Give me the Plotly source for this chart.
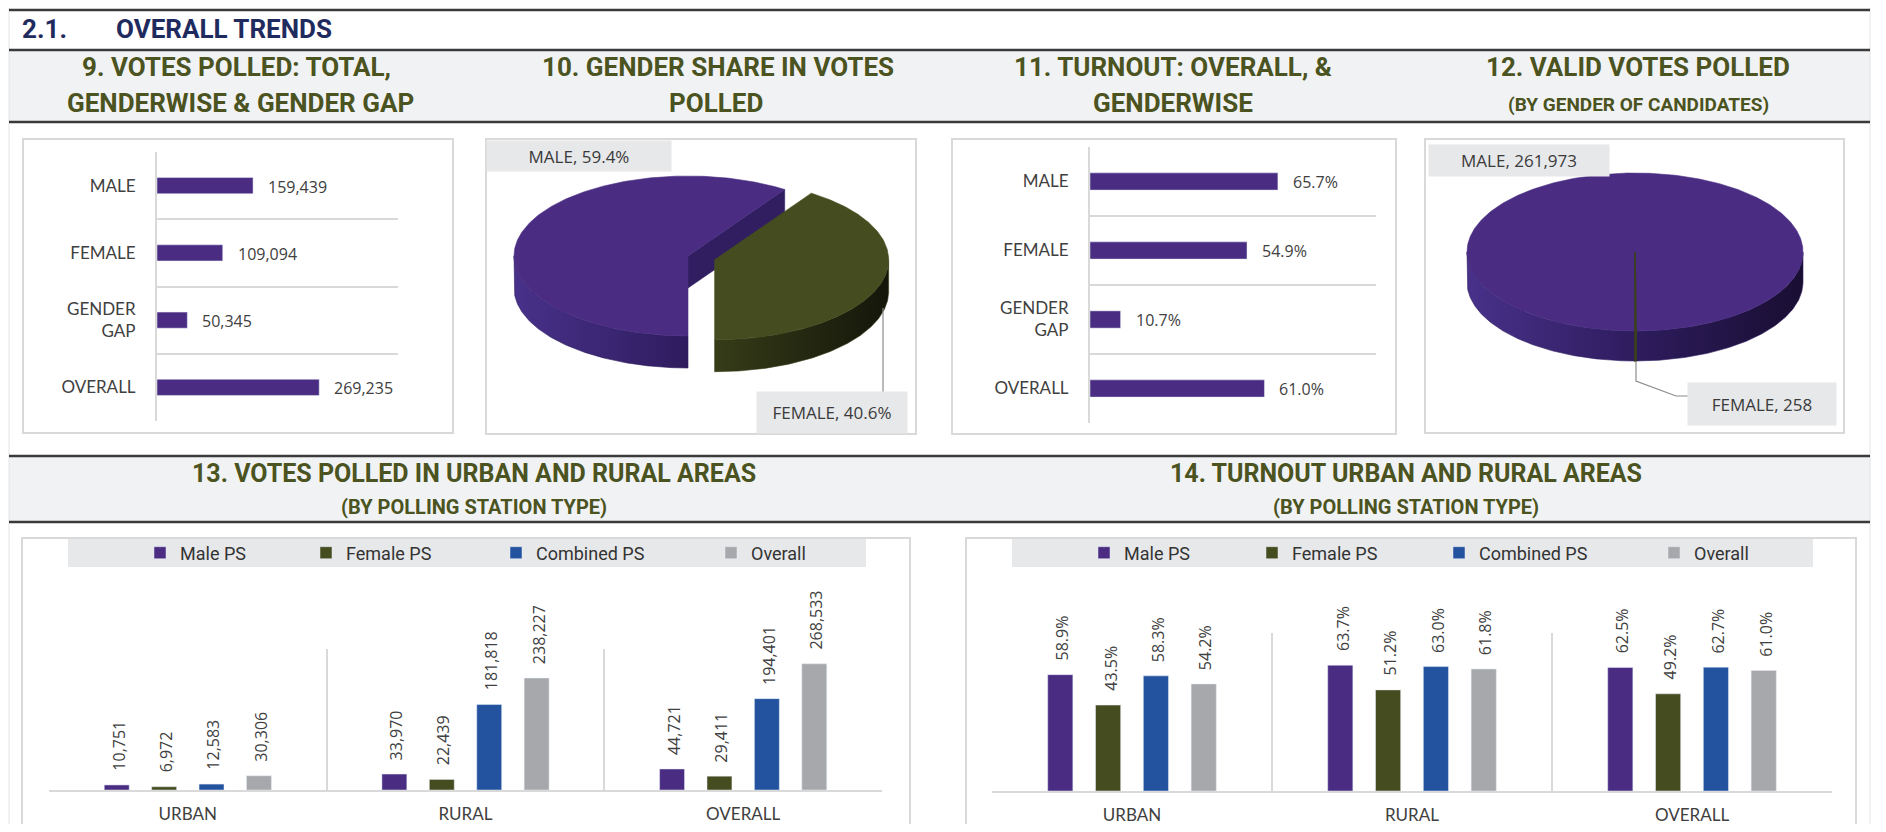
import numpy as np
import plotly.graph_objects as go

W, H = 1886, 832          # page (screenshot) size
OFF = 8                   # default body margin of the html page
FW, FH = W - 2 * OFF, H - 2 * OFF   # figure size so that the page fits exactly

# ------------------------------------------------------------------ data
gender_categories = ["MALE", "FEMALE", "GENDER GAP", "OVERALL"]
votes_polled = [159439, 109094, 50345, 269235]
turnout_rate = [0.657, 0.549, 0.107, 0.610]

share_labels = ["MALE", "FEMALE"]
share_votes = [159439, 109094]

valid_labels = ["MALE", "FEMALE"]
valid_votes = [261973, 258]

area_categories = ["URBAN", "RURAL", "OVERALL"]
ps_types = ["Male PS", "Female PS", "Combined PS", "Overall"]

votes_male_ps = [10751, 33970, 44721]
votes_female_ps = [6972, 22439, 29411]
votes_combined_ps = [12583, 181818, 194401]
votes_overall_ps = [30306, 238227, 268533]

turnout_male_ps = [0.589, 0.637, 0.625]
turnout_female_ps = [0.435, 0.512, 0.492]
turnout_combined_ps = [0.583, 0.630, 0.627]
turnout_overall_ps = [0.542, 0.618, 0.610]

# ------------------------------------------------------------------ style
PURPLE, OLIVE, BLUE, GREY = "#4A2D83", "#454D20", "#23529F", "#A7A8AC"
PS_COLORS = [PURPLE, OLIVE, BLUE, GREY]
TXT = "#404040"
TITLE_CLR = "#4B5320"
NAVY = "#1F2B5E"
LINE = "#D9D9D9"
F_TITLE = "Roboto, Arial, sans-serif"
F_LBL = "Lato, 'Open Sans', sans-serif"
F_NUM = "'Open Sans', Lato, sans-serif"
F_LEG = "Roboto, Arial, sans-serif"
BARGAP, BARGROUPGAP = 0.317, 0.474


def X(x):
    return (x - OFF) / FW


def Y(y):
    return 1 - (y - OFF) / FH


def dx(x0, x1):
    return [X(x0), X(x1)]


def dy(y0, y1):
    return [Y(y1), Y(y0)]


fig = go.Figure()
shapes = []
annotations = []


def hline(y, x0=9, x1=1870, color="#3A3A3A", w=2.5):
    shapes.append(dict(type="line", xref="paper", yref="paper", x0=X(x0), x1=X(x1),
                       y0=Y(y), y1=Y(y), line=dict(color=color, width=w)))


def vline(x, y0, y1, color, w=1):
    shapes.append(dict(type="line", xref="paper", yref="paper", x0=X(x), x1=X(x),
                       y0=Y(y0), y1=Y(y1), line=dict(color=color, width=w)))


def box(x0, y0, x1, y1, fill="rgba(0,0,0,0)", line=None, lw=0, layer="below"):
    shapes.append(dict(type="rect", xref="paper", yref="paper", x0=X(x0), x1=X(x1),
                       y0=Y(y1), y1=Y(y0), fillcolor=fill, layer=layer,
                       line=dict(color=line or "rgba(0,0,0,0)", width=lw)))


def text(x, y, s, size, color, family=F_TITLE, weight="normal", xanchor="center", **kw):
    annotations.append(dict(xref="paper", yref="paper", x=X(x), y=Y(y), text=s,
                            showarrow=False, xanchor=xanchor, yanchor="middle",
                            font=dict(size=size, color=color, family=family, weight=weight), **kw))


def label_box(x, y, w, h, s):
    annotations.append(dict(xref="paper", yref="paper", x=X(x), y=Y(y), text=s,
                            showarrow=False, xanchor="center", yanchor="middle",
                            width=w, height=h, bgcolor="#E7E8EA", borderpad=0,
                            font=dict(family=F_NUM, size=17, color="#3A3A3A")))


# ------------------------------------------------------------------ page decoration
vline(9, 0, 832, "#E4E4E4")
vline(1870, 0, 832, "#E4E4E4")
hline(10)
text(20, 29, "2.1.", 26, NAVY, weight="bold", xanchor="left")
text(114, 29, "OVERALL TRENDS", 26, NAVY, weight="bold", xanchor="left")

box(9, 50, 1870, 122, fill="#F1F2F4")
hline(50)
hline(122)
box(9, 456, 1870, 522, fill="#F1F2F4")
hline(456)
hline(522)

# section titles
text(236, 67, "9. VOTES POLLED: TOTAL,", 26, TITLE_CLR, weight="bold")
text(240, 103, "GENDERWISE & GENDER GAP", 26, TITLE_CLR, weight="bold")
text(718, 67, "10. GENDER SHARE IN VOTES", 26, TITLE_CLR, weight="bold")
text(716, 103, "POLLED", 26, TITLE_CLR, weight="bold")
text(1173, 67, "11. TURNOUT: OVERALL, &", 26, TITLE_CLR, weight="bold")
text(1173, 103, "GENDERWISE", 26, TITLE_CLR, weight="bold")
text(1638, 67, "12. VALID VOTES POLLED", 26, TITLE_CLR, weight="bold")
text(1638, 104, "(BY GENDER OF CANDIDATES)", 19, TITLE_CLR, weight="bold")
text(474, 473, "13. VOTES POLLED IN URBAN AND RURAL AREAS", 25, TITLE_CLR, weight="bold")
text(474, 507, "(BY POLLING STATION TYPE)", 20, TITLE_CLR, weight="bold")
text(1406, 473, "14. TURNOUT URBAN AND RURAL AREAS", 25, TITLE_CLR, weight="bold")
text(1406, 507, "(BY POLLING STATION TYPE)", 20, TITLE_CLR, weight="bold")

# panels
box(23, 139, 453, 433, line=LINE, lw=2)
box(486, 139, 916, 434, line=LINE, lw=2)
box(952, 139, 1396, 434, line=LINE, lw=2)
box(1425, 139, 1844, 433, line=LINE, lw=2)
box(22, 538, 910, 845, line=LINE, lw=2)
box(966, 538, 1856, 845, line=LINE, lw=2)
box(68, 539, 866, 567, fill="#E7E8EA")
box(1012, 539, 1813, 567, fill="#E7E8EA")

# ------------------------------------------------------------------ chart 9 & 11 (horizontal bars)
cat_axis_common = dict(type="category", categoryorder="array", categoryarray=gender_categories,
                       autorange="reversed", tickson="boundaries", showgrid=True,
                       gridcolor=LINE, gridwidth=2, showline=True, linecolor=LINE, linewidth=2,
                       ticks="", ticklabelstandoff=16, labelalias={"GENDER GAP": "GENDER<br>GAP"},
                       tickfont=dict(family=F_LBL, size=17, color=TXT), fixedrange=True)

fig.add_trace(go.Bar(x=votes_polled, y=gender_categories, orientation="h", width=0.24,
                     marker=dict(color=PURPLE), xaxis="x", yaxis="y", showlegend=False,
                     hoverinfo="skip"))
for c, v in zip(gender_categories, votes_polled):
    annotations.append(dict(xref="x", yref="y", x=v, y=c, text=f"{v:,}", showarrow=False,
                            xanchor="left", yanchor="middle", xshift=13, yshift=-1,
                            font=dict(family=F_NUM, size=16, color=TXT)))

fig.add_trace(go.Bar(x=turnout_rate, y=gender_categories, orientation="h", width=0.25,
                     marker=dict(color=PURPLE), xaxis="x3", yaxis="y3", showlegend=False,
                     hoverinfo="skip"))
for c, v in zip(gender_categories, turnout_rate):
    annotations.append(dict(xref="x3", yref="y3", x=v, y=c, text=f"{v:.1%}", showarrow=False,
                            xanchor="left", yanchor="middle", xshift=13,
                            font=dict(family=F_NUM, size=16, color=TXT)))


# ------------------------------------------------------------------ 3D-looking pies (10, 12)
def ell(cx, cy, rx, ry, a0, a1, n=None):
    n = n or max(3, int(abs(a1 - a0) * 1.5) + 2)
    th = np.radians(np.linspace(a0, a1, n))
    return cx + rx * np.sin(th), cy - ry * np.cos(th)


def pie3d(values, tops, sides, cut, geo, explode, xa, ya, edge=None):
    cx, cy, rx, ry, t, start = geo
    total = float(sum(values))
    a = start
    for i, v in enumerate(values):
        span = 360.0 * v / total
        a0, a1 = a, a + span
        a = a1
        mid = np.radians((a0 + a1) / 2)
        scx = cx + explode[i] * rx * np.sin(mid)
        scy = cy - explode[i] * ry * np.cos(mid)
        lw = 1.6 if edge and edge[i] else 0.6
        # visible outer side
        for k in (-360, 0, 360):
            lo, hi = max(a0, 90 + k), min(a1, 270 + k)
            if hi > lo:
                xs, ys = ell(scx, scy, rx, ry, lo, hi)
                px = np.concatenate([xs, xs[::-1], xs[:1]])
                pyy = np.concatenate([ys, ys[::-1] + t, ys[:1]])
                fig.add_trace(go.Scatter(
                    x=px, y=pyy, mode="lines", fill="toself",
                    fillgradient=dict(type="horizontal", start=scx - rx, stop=scx + rx,
                                      colorscale=sides[i]),
                    line=dict(width=lw, color=(edge[i] if edge and edge[i] else sides[i][1][1])),
                    xaxis=xa, yaxis=ya, showlegend=False, hoverinfo="skip"))
        # visible cut face at end edge
        phi = np.radians(a1 + 90)
        if np.cos(phi) < -0.05:
            ex, ey = ell(scx, scy, rx, ry, a1, a1, 1)
            fig.add_trace(go.Scatter(
                x=[scx, ex[0], ex[0], scx, scx], y=[scy, ey[0], ey[0] + t, scy + t, scy],
                mode="lines", fill="toself", fillcolor=cut[i], line=dict(width=0.6, color=cut[i]),
                xaxis=xa, yaxis=ya, showlegend=False, hoverinfo="skip"))
        # top face
        xs, ys = ell(scx, scy, rx, ry, a0, a1)
        fig.add_trace(go.Scatter(
            x=np.concatenate([[scx], xs, [scx]]), y=np.concatenate([[scy], ys, [scy]]),
            mode="lines", fill="toself", fillcolor=tops[i],
            line=dict(width=lw, color=(edge[i] if edge and edge[i] else tops[i])),
            xaxis=xa, yaxis=ya, showlegend=False, hoverinfo="skip"))


SIDE_P = [[0, "#48318A"], [0.5, "#2E1C5E"], [1, "#190E32"]]
SIDE_O = [[0, "#4A5223"], [0.5, "#363C18"], [1, "#14160A"]]

pie3d(share_votes, [PURPLE, OLIVE], [SIDE_P, SIDE_O], ["#301E60", "#2A2F12"],
      (688, 256, 174, 80, 32, 180), [0, 0.16], "x2", "y2")
pie3d(valid_votes, [PURPLE, OLIVE], [SIDE_P, SIDE_O], ["#301E60", "#2A2F12"],
      (1635, 252, 168, 79, 30, 180), [0, 0], "x4", "y4", edge=[None, "#3B4018"])

sh = share_votes
label_box(579, 156, 184, 30, f"{share_labels[0]}, {sh[0] / sum(sh):.1%}")
label_box(832, 412, 150, 41, f"{share_labels[1]}, {sh[1] / sum(sh):.1%}")
vline(883, 308, 392, "#8C8C8C", 1.2)

label_box(1519, 160, 180, 31, f"{valid_labels[0]}, {valid_votes[0]:,}")
label_box(1762, 404, 148, 42, f"{valid_labels[1]}, {valid_votes[1]:,}")
shapes.append(dict(type="path", xref="paper", yref="paper",
                   path=(f"M{X(1636)},{Y(361)} L{X(1636)},{Y(381)} "
                         f"L{X(1676)},{Y(396)} L{X(1688)},{Y(396)}"),
                   line=dict(color="#8C8C8C", width=1.2)))

# ------------------------------------------------------------------ charts 13 & 14 (grouped bars)
votes_series = [votes_male_ps, votes_female_ps, votes_combined_ps, votes_overall_ps]
turnout_series = [turnout_male_ps, turnout_female_ps, turnout_combined_ps, turnout_overall_ps]
slot = (1 - BARGAP) / len(ps_types)


def value_labels(vals, i, fmt, xa, ya):
    off = (i - (len(ps_types) - 1) / 2) * slot
    for j, v in enumerate(vals):
        annotations.append(dict(xref=xa, yref=ya, x=j + off, y=v, text=fmt(v), showarrow=False,
                                textangle=-90, xanchor="center", yanchor="bottom", yshift=12,
                                xshift=2, font=dict(family=F_NUM, size=16, color=TXT)))


for i, (name, vals) in enumerate(zip(ps_types, votes_series)):
    fig.add_trace(go.Bar(x=area_categories, y=vals, name=name, marker=dict(color=PS_COLORS[i]),
                         xaxis="x5", yaxis="y5", legend="legend" if i == 0 else f"legend{i + 1}",
                         hoverinfo="skip"))
    value_labels(vals, i, lambda v: f"{v:,}", "x5", "y5")
for i, (name, vals) in enumerate(zip(ps_types, turnout_series)):
    fig.add_trace(go.Bar(x=area_categories, y=vals, name=name, marker=dict(color=PS_COLORS[i]),
                         xaxis="x6", yaxis="y6", legend=f"legend{i + 5}", hoverinfo="skip"))
    value_labels(vals, i, lambda v: f"{v:.1%}", "x6", "y6")

group_x_axis = dict(type="category", tickson="boundaries", showgrid=True, gridcolor=LINE,
                    gridwidth=2, showline=True, linecolor=LINE, linewidth=2, ticks="",
                    ticklabelstandoff=8, tickfont=dict(family=F_LBL, size=17, color=TXT),
                    fixedrange=True)

legend_common = dict(xanchor="left", yanchor="middle", bgcolor="rgba(0,0,0,0)",
                     borderwidth=0, itemwidth=30, font=dict(family=F_LEG, size=18, color="#333333"),
                     itemclick=False, itemdoubleclick=False)
legend_x13 = [157, 323, 513, 728]
legend_x14 = [1101, 1269, 1456, 1671]
legend_layout = {}
for i, xc in enumerate(legend_x13):
    key = "legend" if i == 0 else f"legend{i + 1}"
    legend_layout[key] = dict(legend_common, x=X(xc - 17), y=Y(553))
for i, xc in enumerate(legend_x14):
    legend_layout[f"legend{i + 5}"] = dict(legend_common, x=X(xc - 17), y=Y(553))

hidden = dict(visible=False, fixedrange=True)

fig.update_layout(
    width=FW, height=FH, margin=dict(l=0, r=0, t=0, b=0, autoexpand=False),
    paper_bgcolor="white", plot_bgcolor="rgba(0,0,0,0)",
    barmode="group", bargap=BARGAP, bargroupgap=BARGROUPGAP,
    showlegend=True,
    xaxis=dict(hidden, domain=dx(157, 398), range=[0, 400000], anchor="y"),
    yaxis=dict(cat_axis_common, domain=dy(152, 421), anchor="x"),
    xaxis2=dict(hidden, domain=dx(486, 916), range=[486, 916], anchor="y2"),
    yaxis2=dict(hidden, domain=dy(139, 434), range=[434, 139], anchor="x2"),
    xaxis3=dict(hidden, domain=dx(1090, 1376), range=[0, 1], anchor="y3"),
    yaxis3=dict(cat_axis_common, domain=dy(147, 423), anchor="x3"),
    xaxis4=dict(hidden, domain=dx(1425, 1844), range=[1425, 1844], anchor="y4"),
    yaxis4=dict(hidden, domain=dy(139, 433), range=[433, 139], anchor="x4"),
    xaxis5=dict(group_x_axis, domain=dx(49, 882), anchor="y5"),
    yaxis5=dict(hidden, domain=dy(649, 790), range=[0, 300000], anchor="x5"),
    xaxis6=dict(group_x_axis, domain=dx(992, 1832), anchor="y6"),
    yaxis6=dict(hidden, domain=dy(633, 791), range=[0, 0.8], anchor="x6"),
    shapes=shapes, annotations=annotations,
    **legend_layout,
)

fig.write_html("out.html")
